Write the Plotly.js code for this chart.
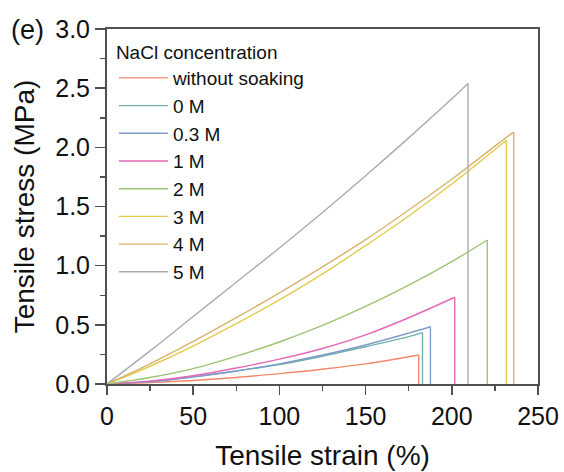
<!DOCTYPE html>
<html>
<head>
<meta charset="utf-8">
<script src="https://cdn.plot.ly/plotly-3.0.1.min.js"></script>
<style>html,body{margin:0;padding:0;background:#fff;}#chart{width:564px;height:472px;}</style>
</head>
<body>
<div id="chart"></div>
<script>
// Series names and colours
const seriesNames = ["without soaking", "0 M", "0.3 M", "1 M", "2 M", "3 M", "4 M", "5 M"];
const seriesColors = ["#F3896C", "#6FB2AA", "#7F9BCB", "#E468B6", "#9CC472", "#E3CB4E", "#D9B36E", "#ABABAB"];

// Strain (%) and stress (MPa) for each loading curve
// (the last point of each curve is the break point; the curve then drops to 0)
const strainWithout = [0, 25, 50, 75, 100, 125, 150, 180.8];
const stressWithout = [0, 0.012, 0.03, 0.055, 0.088, 0.125, 0.17, 0.245];

const strain0M = [0, 25, 50, 75, 100, 125, 150, 175, 183];
const stress0M = [0, 0.02, 0.06, 0.11, 0.165, 0.235, 0.315, 0.40, 0.434];

const strain03M = [0, 25, 50, 75, 100, 125, 150, 175, 187.6];
const stress03M = [0, 0.02, 0.06, 0.11, 0.17, 0.245, 0.33, 0.43, 0.484];

const strain1M = [0, 25, 50, 75, 100, 125, 150, 175, 201.7];
const stress1M = [0, 0.025, 0.07, 0.135, 0.21, 0.30, 0.415, 0.56, 0.733];

const strain2M = [0, 25, 50, 75, 100, 125, 150, 175, 200, 220.6];
const stress2M = [0, 0.055, 0.13, 0.235, 0.355, 0.495, 0.655, 0.835, 1.035, 1.217];

const strain3M = [0, 25, 50, 75, 100, 125, 150, 175, 200, 231.6];
const stress3M = [0, 0.15, 0.32, 0.51, 0.71, 0.93, 1.17, 1.42, 1.69, 2.06];

const strain4M = [0, 25, 50, 75, 100, 125, 150, 175, 200, 225, 235.9];
const stress4M = [0, 0.17, 0.36, 0.56, 0.77, 0.99, 1.22, 1.47, 1.73, 2.01, 2.13];

const strain5M = [0, 25, 50, 75, 100, 125, 150, 175, 200, 209.4];
const stress5M = [0, 0.28, 0.57, 0.86, 1.15, 1.45, 1.76, 2.08, 2.41, 2.54];

const strainSets = [strainWithout, strain0M, strain03M, strain1M, strain2M, strain3M, strain4M, strain5M];
const stressSets = [stressWithout, stress0M, stress03M, stress1M, stress2M, stress3M, stress4M, stress5M];

const xTickVals = [0, 50, 100, 150, 200, 250];
const yTickVals = [0, 0.5, 1.0, 1.5, 2.0, 2.5, 3.0];
const yTickText = ["0.0", "0.5", "1.0", "1.5", "2.0", "2.5", "3.0"];

const FONT = "Arial, 'Liberation Sans', sans-serif";
const AX = "#505050";
const LW = 1.4;

const traces = [];
seriesNames.forEach((name, i) => {
  traces.push({
    type: "scatter", mode: "lines", name: name, legendgroup: name,
    x: strainSets[i], y: stressSets[i],
    line: {color: seriesColors[i], width: LW, shape: "spline", smoothing: 1}
  });
});
// vertical drop at break, drawn from each curve's break point
seriesNames.forEach((name, i) => {
  const xs = strainSets[i], ys = stressSets[i];
  const n = xs.length - 1;
  traces.push({
    type: "scatter", mode: "lines", name: name, legendgroup: name, showlegend: false,
    x: [xs[n], xs[n]], y: [ys[n], 0],
    line: {color: seriesColors[i], width: LW}
  });
});

const layout = {
  width: 564,
  height: 472,
  margin: {l: 107, r: 26, t: 29, b: 88},
  paper_bgcolor: "#fff",
  plot_bgcolor: "#fff",
  font: {family: FONT, color: "#111"},
  showlegend: true,
  legend: {
    x: 0.016, y: 0.985, xanchor: "left", yanchor: "top",
    bgcolor: "rgba(0,0,0,0)",
    font: {family: FONT, size: 19, color: "#111"},
    title: {text: "NaCl concentration", font: {family: FONT, size: 19, color: "#111"}},
    itemwidth: 49,
    tracegroupgap: 0
  },
  xaxis: {
    range: [0, 250],
    tickvals: xTickVals,
    ticks: "outside", ticklen: 9, tickwidth: 1.5, tickcolor: AX,
    minor: {dtick: 25, ticks: "outside", ticklen: 5, tickwidth: 1.5, tickcolor: AX, showgrid: false},
    showline: true, linecolor: AX, linewidth: 2, mirror: true,
    showgrid: false, zeroline: false,
    tickfont: {family: FONT, size: 25, color: "#111"},
    title: {text: "Tensile strain (%)", font: {family: FONT, size: 28, color: "#111"}, standoff: 16}
  },
  yaxis: {
    range: [0, 3.0],
    tickvals: yTickVals, ticktext: yTickText,
    ticks: "outside", ticklen: 10, tickwidth: 1.5, tickcolor: AX,
    minor: {dtick: 0.25, ticks: "outside", ticklen: 5, tickwidth: 1.5, tickcolor: AX, showgrid: false},
    showline: true, linecolor: AX, linewidth: 2, mirror: true,
    showgrid: false, zeroline: false,
    tickfont: {family: FONT, size: 25, color: "#111"},
    title: {text: "Tensile stress (MPa)", font: {family: FONT, size: 28, color: "#111"}, standoff: 12}
  },
  annotations: [{
    text: "(e)", xref: "paper", yref: "paper", x: -0.228, y: 0.998,
    xanchor: "left", yanchor: "middle", showarrow: false,
    font: {family: FONT, size: 27, color: "#111"}
  }]
};

Plotly.newPlot("chart", traces, layout, {displayModeBar: false, staticPlot: true});
</script>
</body>
</html>
